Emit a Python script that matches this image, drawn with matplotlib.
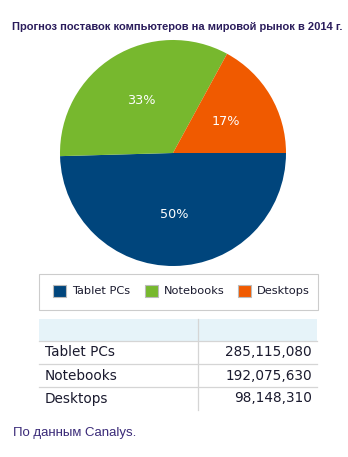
import matplotlib
matplotlib.use("Agg")
import matplotlib.pyplot as plt
from matplotlib.patches import Rectangle

W, H = 348, 457
categories = ["Tablet PCs", "Notebooks", "Desktops"]
values = [285115080, 192075630, 98148310]
value_labels = ["285,115,080", "192,075,630", "98,148,310"]
colors = ["#00457C", "#77B82E", "#F05A00"]
title = "Прогноз поставок компьютеров на мировой рынок в 2014 г."
footer = "По данным Canalys."

fig = plt.figure(figsize=(W / 100, H / 100), dpi=100)
fig.patch.set_facecolor("white")

def ax_px(x0, y0, w, h):
    return fig.add_axes([x0 / W, 1 - (y0 + h) / H, w / W, h / H])

# title
fig.text(177 / W, 1 - 27 / H, title, ha="center", va="center", fontsize=8.0,
         fontweight="bold", color="#2B1D5C", family="Liberation Sans")

# pie
cx, cy, r = 173, 153, 113
pax = ax_px(cx - r, cy - r, 2 * r, 2 * r)
pax.pie(values, colors=colors, startangle=0, counterclock=False, radius=1,
        autopct=lambda p: f"{p:.0f}%", pctdistance=0.54,
        textprops=dict(color="white", fontsize=9.2, family="DejaVu Sans"),
        wedgeprops=dict(linewidth=0))
pax.set_xlim(-1, 1)
pax.set_ylim(-1, 1)
pax.set_aspect("equal")
pax.axis("off")

# legend / table canvas in pixel coords
ov = fig.add_axes([0, 0, 1, 1])
ov.set_xlim(0, W)
ov.set_ylim(H, 0)
ov.axis("off")

ov.add_patch(Rectangle((38.5, 273.5), 279, 36, fill=False, edgecolor="#CCCCCC", lw=0.8))
lx = [53, 145, 238]
for x, c, lab in zip(lx, colors, categories):
    ov.add_patch(Rectangle((x, 285), 13, 12, facecolor=c, edgecolor="#BBBBBB", lw=0.8))
    ov.text(x + 19, 291, lab, va="center", ha="left", fontsize=8.2, color="#1A1A2E",
            family="DejaVu Sans")

# table
tx0, tx1, tdiv = 39, 317, 198
ov.add_patch(Rectangle((tx0, 319), tx1 - tx0, 22, facecolor="#E6F3F9", edgecolor="none"))
rows_y = [341, 364, 387, 410]
ov.plot([tx0, tx1], [341, 341], color="#D5D5D5", lw=0.9)
ov.plot([tx0, tx1], [364, 364], color="#D5D5D5", lw=0.9)
ov.plot([tx0, tx1], [387, 387], color="#D5D5D5", lw=0.9)
ov.plot([tdiv, tdiv], [319, 410], color="#D5D5D5", lw=0.9)
for i, (lab, vl) in enumerate(zip(categories, value_labels)):
    yc = (rows_y[i] + rows_y[i + 1]) / 2
    ov.text(45, yc, lab, va="center", ha="left", fontsize=9.8, color="#1A1A2E",
            family="DejaVu Sans")
    ov.text(312, yc, vl, va="center", ha="right", fontsize=9.8, color="#1A1A2E",
            family="DejaVu Sans")

fig.text(13 / W, 1 - 433 / H, footer, ha="left", va="center", fontsize=9.5,
         color="#3A2A78", family="Liberation Sans")

fig.savefig("out.png", dpi=100, facecolor="white")
